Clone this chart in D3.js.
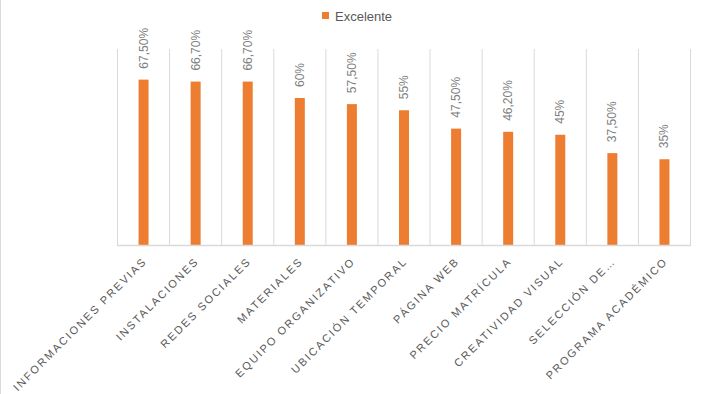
<!DOCTYPE html>
<html><head><meta charset="utf-8">
<script src="https://cdn.jsdelivr.net/npm/d3@7"></script>
<style>body{margin:0;background:#fff}svg{display:block}</style>
</head><body>
<script>
const categories = ["INFORMACIONES PREVIAS","INSTALACIONES","REDES SOCIALES","MATERIALES","EQUIPO ORGANIZATIVO","UBICACIÓN TEMPORAL","PÁGINA WEB","PRECIO MATRÍCULA","CREATIVIDAD VISUAL","SELECCIÓN DE…","PROGRAMA ACADÉMICO"];
const values = [67.5,66.7,66.7,60,57.5,55,47.5,46.2,45,37.5,35];
const valueLabels = ["67,50%","66,70%","66,70%","60%","57,50%","55%","47,50%","46,20%","45%","37,50%","35%"];
const seriesName = "Excelente";

const W=706,H=394;
const svg=d3.select("body").append("svg").attr("width",W).attr("height",H);
svg.append("line").attr("x1",0.5).attr("x2",0.5).attr("y1",0).attr("y2",H).attr("stroke","#d9d9d9");

const x=d3.scaleBand().domain(categories).range([117.5,690.5]).padding(0);
const y=d3.scaleLinear().domain([0,80]).range([245,49]);
const bw=10;

// vertical category gridlines
const bounds=categories.map(c=>x(c)).concat([x.range()[1]]);
svg.append("g").selectAll("line").data(bounds).join("line")
  .attr("x1",d=>d).attr("x2",d=>d).attr("y1",y(80)).attr("y2",y(0))
  .attr("stroke","#d9d9d9").attr("stroke-width",1);

svg.append("g").selectAll("rect").data(values).join("rect")
  .attr("x",(d,i)=>x(categories[i])+x.bandwidth()/2-bw/2)
  .attr("y",d=>y(d)).attr("width",bw).attr("height",d=>y(0)-y(d))
  .attr("fill","#ed7d31");

// baseline
svg.append("line").attr("x1",x.range()[0]-0.5).attr("x2",x.range()[1]+0.5)
  .attr("y1",y(0)+0.5).attr("y2",y(0)+0.5).attr("stroke","#d9d9d9").attr("stroke-width",1.5);

// value labels
svg.append("g").selectAll("text").data(values).join("text")
  .attr("transform",(d,i)=>`translate(${x(categories[i])+x.bandwidth()/2},${y(d)-11}) rotate(-90)`)
  .attr("dominant-baseline","central").attr("text-anchor","start")
  .attr("font-family","Liberation Sans, Arial, sans-serif").attr("font-size",12)
  .attr("fill","#7f7f7f").text((d,i)=>valueLabels[i]);

// category labels
svg.append("g").selectAll("text").data(categories).join("text")
  .attr("transform",d=>`translate(${x(d)+x.bandwidth()/2+4},${y(0)+17}) rotate(-45)`)
  .attr("text-anchor","end")
  .attr("font-family","Liberation Sans, Arial, sans-serif").attr("font-size",11)
  .attr("letter-spacing","1.9px")
  .attr("fill","#595959").text(d=>d);

// legend
const lg=svg.append("g");
lg.append("rect").attr("x",322).attr("y",12).attr("width",7).attr("height",7).attr("fill","#ed7d31");
lg.append("text").attr("x",335).attr("y",20.5).attr("font-family","Liberation Sans, Arial, sans-serif")
  .attr("font-size",13).attr("fill","#595959").text(seriesName);
</script>
</body></html>
